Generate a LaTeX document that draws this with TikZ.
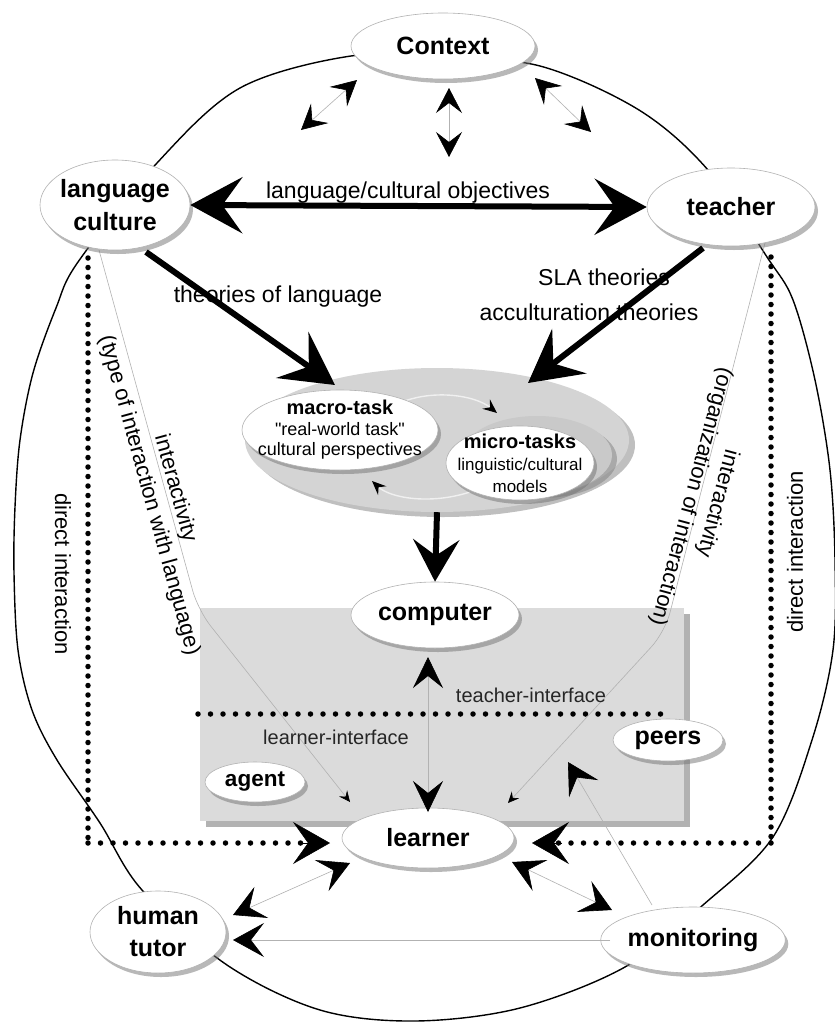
\documentclass[tikz,border=0pt]{standalone}
\usepackage{fontspec}
\setmainfont[Ligatures=TeXOff]{Liberation Sans}
\usetikzlibrary{shapes.geometric,arrows.meta,shadows}
\tikzset{
  nd/.style={ellipse, draw=black!30, line width=0.6pt, fill=white, inner sep=0pt, align=center,
     font=\fontsize{25}{32}\selectfont\bfseries,
     drop shadow={shadow xshift=3pt, shadow yshift=-4pt, fill=black!55}},
  lab/.style={inner sep=0pt, font=\fontsize{23}{26}\selectfont},
  slab/.style={inner sep=0pt, font=\fontsize{20}{22}\selectfont, text=black!85},
  rlab/.style={inner sep=0pt, align=center, font=\fontsize{22}{27}\selectfont},
  thinln/.style={draw=black!30, line width=0.6pt},
  outerln/.style={line width=1.4pt},
  vdots/.style={line width=5.5pt, line cap=round, dash pattern=on 0pt off 9.5pt},
  hdots/.style={line width=5.5pt, line cap=round, dash pattern=on 0pt off 12.5pt},
  fat/.style={line width=6pt},
  loopln/.style={draw=black!6, line width=1.4pt},
  bigT/.tip={Stealth[length=37pt,width=42pt,inset=15pt,color=black]},
  midT/.tip={Stealth[length=31pt,width=34pt,inset=13pt,color=black]},
  clT/.tip={Stealth[length=31pt,width=30pt,inset=12pt,color=black]},
  ctxT/.tip={Stealth[length=25pt,width=26pt,inset=10pt,color=black]},
  smT/.tip={Stealth[length=11pt,width=10pt,inset=4pt,color=black]},
  fatT/.tip={Stealth[length=52pt,width=56pt,inset=20pt]},
  compT/.tip={Stealth[length=42pt,width=46pt,inset=16pt]},
  loopT/.tip={Stealth[length=14pt,width=12pt,inset=5pt,color=black]},
}
\begin{document}
\begin{tikzpicture}[x=1pt,y=-1pt]
\fill[white] (0,0) rectangle (835,1023);
\useasboundingbox (0,0) rectangle (835,1023);

% outer closed curve
\draw[outerln] plot[smooth cycle, tension=0.55] coordinates {(443,58) (540,66) (639,110) (708,170) (767,257) (793,300) (815,380) (830,470) (835,560) (833,650) (812,740) (773,837) (703,905) (625,967) (520,1008) (415,1021) (320,1010) (227,965) (142,890) (100,823) (57,760) (32,710) (18,650) (14,573) (15,507) (20,440) (33,373) (56,308) (78,262) (157,163) (240,88) (351,56)};

% gray computer area
\path[fill=black!14, drop shadow={shadow xshift=6pt,shadow yshift=-6pt,fill=black!60}] (200,608) rectangle (684,821);

% dotted frames
\draw[vdots] (88,258) -- (88,843);
\draw[hdots] (88,843) -- (318,843);
\draw[vdots] (771,257) -- (771,843);
\draw[hdots] (771,843) -- (545,843);
\draw[hdots] (198,714) -- (670,714);

% interactivity thin lines
\coordinate (ilA) at (99,250);
\coordinate (ilB) at (198,610);
\coordinate (ilC) at (350,802);
\coordinate (irA) at (765,243);
\coordinate (irB) at (665,632);
\coordinate (irC) at (508,803);
\draw[thinln, -smT, rounded corners=20pt] (ilA) -- (ilB) -- (ilC);
\draw[thinln, -smT, rounded corners=20pt] (irA) -- (irB) -- (irC);

% tasks area
\node[ellipse, fill=black!17, minimum width=384, minimum height=144, inner sep=0pt,
  drop shadow={shadow xshift=6pt, shadow yshift=-5pt, fill=black!50}] (tasks) at (437,440) {};
\node[ellipse, fill=black!21, minimum width=150, minimum height=78, inner sep=0pt,
  drop shadow={shadow xshift=5pt, shadow yshift=-4pt, fill=black!50}] (mback) at (537,455) {};
\draw[loopln, -loopT] (395,405) .. controls (430,388) and (475,395) .. (497,413);
\draw[loopln, -loopT] (470,492) .. controls (430,505) and (390,498) .. (372,481);

\node[nd, minimum width=196, minimum height=80, inner xsep=-30pt, inner ysep=-10pt,
  font=\fontsize{18}{20.5}\selectfont] (macro) at (340,430)
  {{\bfseries\fontsize{20}{20.5}\selectfont macro-task}\\"real-world task"\\cultural perspectives};
\node[nd, minimum width=148, minimum height=74, inner xsep=-30pt, inner ysep=-10pt,
  font=\fontsize{17}{22}\selectfont] (micro) at (520,463)
  {{\bfseries\fontsize{20}{22}\selectfont micro-tasks}\\linguistic/cultural\\models};

% main nodes
\node[nd, minimum width=184, minimum height=66] (ctx) at (443,46) {Context};
\node[nd, minimum width=150, minimum height=90, inner xsep=-10pt, font=\fontsize{25}{33}\selectfont\bfseries] (lc) at (115,205) {language\\culture};
\node[nd, minimum width=168, minimum height=78] (teacher) at (731,207) {teacher};
\node[nd, minimum width=168, minimum height=66] (computer) at (435,615) {computer};
\node[nd, minimum width=172, minimum height=60] (learner) at (428,838) {learner};
\node[nd, minimum width=110, minimum height=42] (peers) at (668,740) {peers};
\node[nd, minimum width=100, minimum height=40, font=\fontsize{22.5}{26}\selectfont\bfseries] (agent) at (255,782) {agent};
\node[nd, minimum width=136, minimum height=82] (tutor) at (158,932) {human\\tutor};
\node[nd, minimum width=176, minimum height=66] (monitoring) at (693,940) {monitoring};

% labels
\node[lab] (objl) at (408,193) {language/cultural objectives};
\node[lab] (theol) at (278,297) {theories of language};
\node[lab] (slal) at (604,277) {SLA theories};
\node[lab] (accl) at (589,312) {acculturation theories};
\node[slab] (til) at (531,695) {teacher-interface};
\node[slab] (lil) at (336,737) {learner-interface};
\node[rlab, rotate=-90] (dil) at (63,574) {direct interaction};
\node[rlab, rotate=90] (dir) at (795,552) {direct interaction};
\node[rlab, rotate=-74.6] (ial) at (162,492) {interactivity\\(type of interaction with language)};
\node[rlab, rotate=-105] (iar) at (704,500) {interactivity\\(organization of interaction)};

% context arrows
\coordinate (c1a) at (301,130); \coordinate (c1b) at (357,80);
\coordinate (c2a) at (449,157); \coordinate (c2b) at (449,88);
\coordinate (c3a) at (591,132); \coordinate (c3b) at (535,78);
\draw[thinln, ctxT-ctxT] (c1a) -- (c1b);
\draw[thinln, ctxT-ctxT] (c2a) -- (c2b);
\draw[thinln, ctxT-ctxT] (c3a) -- (c3b);

% thick arrows
\coordinate (lcA) at (146,252); \coordinate (macroT) at (335,385);
\coordinate (tA) at (703,248); \coordinate (microT) at (528,383);
\draw[fat, -fatT] (lcA) -- (macroT);
\draw[fat, -fatT] (tA) -- (microT);
\draw[fat, fatT-fatT] (lc.east) -- (teacher.west);
\draw[fat, -compT] (tasks.south) -- (computer.north);

% learner area arrows
\coordinate (clA) at (428,657); \coordinate (clB) at (428,812);
\draw[thinln, clT-clT] (clA) -- (clB);
\coordinate (dL) at (300,843); \coordinate (dLt) at (330,843);
\coordinate (dR) at (562,843); \coordinate (dRt) at (532,843);
\draw[line width=0.5pt, -bigT] (dL) -- (dLt);
\draw[line width=0.5pt, -bigT] (dR) -- (dRt);
\coordinate (tuA) at (233,915); \coordinate (leA) at (350,863);
\draw[thinln, midT-midT] (tuA) -- (leA);
\coordinate (leB) at (512,862); \coordinate (moA) at (612,910);
\draw[thinln, midT-midT] (leB) -- (moA);
\coordinate (moB) at (610,940); \coordinate (tuB) at (233,940);
\draw[thinln, -midT] (moB) -- (tuB);
\coordinate (moC) at (652,905); \coordinate (peA) at (568,762);
\draw[thinln, -midT] (moC) -- (peA);
\end{tikzpicture}
\end{document}
